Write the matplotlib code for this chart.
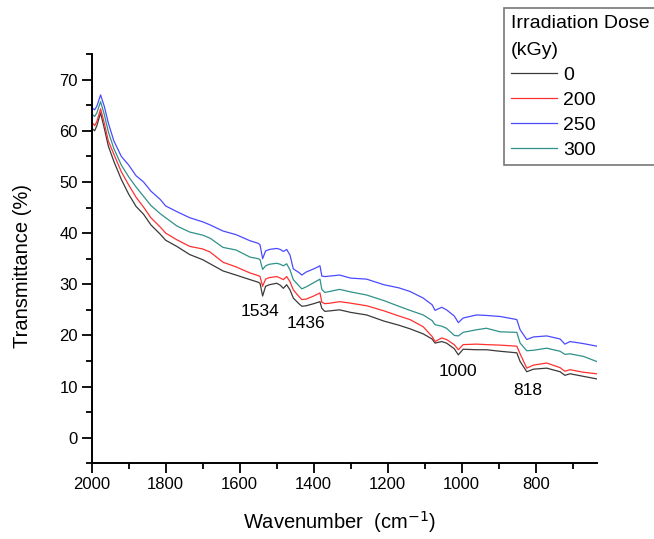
import matplotlib
matplotlib.use("Agg")
import matplotlib.pyplot as plt
from matplotlib.ticker import MultipleLocator

plt.rcParams['font.family'] = ['Liberation Sans', 'DejaVu Sans']

# wavenumber grid (cm-1)
wavenumber = [2000, 1992, 1986, 1976, 1966, 1955, 1940, 1920, 1900, 1880,
              1860, 1840, 1815, 1800, 1770, 1735, 1700, 1680, 1645, 1610,
              1572, 1550, 1545, 1538, 1530, 1520, 1500, 1490, 1482, 1473,
              1464, 1455, 1440, 1432, 1420, 1400, 1383, 1378, 1370, 1356,
              1330, 1300, 1257, 1210, 1170, 1140, 1104, 1080, 1072, 1054,
              1041, 1020, 1009, 996, 960, 933, 896, 851, 842, 824,
              806, 770, 734, 721, 707, 671, 635]

t_0kgy = [60.5, 60.0, 61.0, 63.5, 60.5, 57.0, 54.0, 50.5, 47.6, 45.2,
          43.7, 41.6, 39.8, 38.6, 37.4, 35.8, 34.8, 34.0, 32.6, 31.8,
          30.9, 30.4, 30.2, 27.7, 29.6, 29.9, 30.2, 29.8, 29.2, 29.9,
          28.9, 27.3, 26.2, 25.7, 25.8, 26.2, 26.6, 25.3, 24.7, 24.8,
          25.0, 24.5, 24.0, 22.8, 22.0, 21.3, 20.3, 19.3, 18.5, 18.8,
          18.5, 17.4, 16.2, 17.3, 17.2, 17.2, 16.9, 16.6, 14.9, 12.9,
          13.4, 13.6, 12.9, 12.2, 12.5, 12.0, 11.5]

t_200kgy = [61.7, 61.0, 61.8, 64.3, 61.5, 58.0, 55.4, 52.0, 49.4, 47.0,
            45.1, 43.0, 41.2, 40.0, 38.7, 37.4, 36.9, 36.3, 34.3, 33.4,
            32.2, 31.7, 31.5, 29.6, 31.0, 31.3, 31.5, 31.2, 30.9, 31.5,
            30.5, 28.9, 27.6, 27.0, 27.1, 27.7, 28.3, 26.5, 26.2, 26.3,
            26.6, 26.3, 25.8, 24.8, 23.8, 23.1, 21.7, 19.8, 18.8, 19.5,
            19.2, 18.2, 17.2, 18.2, 18.3, 18.2, 18.1, 17.9, 16.4, 13.6,
            14.2, 14.6, 13.7, 13.0, 13.3, 12.8, 12.5]

t_250kgy = [64.5, 64.1, 64.8, 67.0, 64.8, 61.5, 58.0, 55.0, 53.3, 51.2,
            50.0, 48.2, 46.6, 45.3, 44.2, 43.0, 42.2, 41.6, 40.4, 39.7,
            38.5, 38.0, 37.7, 35.0, 36.5, 36.8, 37.0, 36.8, 36.4, 36.8,
            35.7, 33.0, 32.3, 31.8, 32.4, 33.0, 33.6, 31.6, 31.5, 31.6,
            31.8, 31.2, 31.0, 29.9, 29.3, 28.6, 27.3, 26.0, 24.9, 25.5,
            25.0, 23.8, 22.5, 23.4, 24.0, 23.9, 23.7, 23.1, 21.1, 19.2,
            19.7, 19.9, 19.3, 18.3, 18.8, 18.4, 17.9]

t_300kgy = [63.3, 62.8, 63.5, 65.7, 63.2, 59.8, 56.5, 53.3, 51.0, 49.0,
            47.2, 45.4, 43.8, 43.0, 41.4, 40.2, 39.6, 39.0, 37.2, 36.7,
            35.3, 35.0, 34.8, 32.9, 33.6, 33.9, 34.1, 33.9, 33.6, 34.0,
            32.8, 30.9, 29.7, 29.1, 29.5, 30.3, 31.0, 29.0, 28.4, 28.6,
            29.0, 28.5, 27.9, 26.8, 25.7, 24.9, 24.0, 22.9, 22.1, 21.8,
            21.4, 20.0, 19.9, 20.6, 21.1, 21.4, 20.7, 20.6, 18.5, 17.0,
            17.1, 17.5, 16.9, 16.3, 16.4, 15.9, 14.9]

doses = ['0', '200', '250', '300']
colors = ['#3a3a3a', '#ff3030', '#4a4aff', '#2f918a']

peak_labels = ['1534', '1436', '1000', '818']
peak_label_x = [1545, 1421, 1010, 822]
peak_label_y = [24.7, 22.3, 13.0, 9.3]

fig = plt.figure(figsize=(6.54, 5.39), dpi=100)
ax = fig.add_axes([0.1402, 0.1404, 0.7722, 0.7594])

for series, lab, col in zip([t_0kgy, t_200kgy, t_250kgy, t_300kgy], doses, colors):
    ax.plot(wavenumber, series, color=col, lw=0.9, label=lab)

for txt, x, y in zip(peak_labels, peak_label_x, peak_label_y):
    ax.text(x, y, txt, ha='center', va='center', fontsize=12.5)

ax.set_xlim(2000, 635)
ax.set_ylim(-5, 75)
ax.xaxis.set_major_locator(MultipleLocator(200))
ax.xaxis.set_minor_locator(MultipleLocator(100))
ax.yaxis.set_major_locator(MultipleLocator(10))
ax.yaxis.set_minor_locator(MultipleLocator(5))

for side in ['top', 'right']:
    ax.spines[side].set_visible(False)
for side in ['left', 'bottom']:
    ax.spines[side].set_linewidth(1.4)

ax.tick_params(which='major', direction='out', length=7, width=1.3, labelsize=12, pad=3)
ax.tick_params(which='minor', direction='out', length=4.5, width=1.3)

fig.text(23 / 654, 1 - 266 / 539, 'Transmittance (%)', rotation=90,
         ha='center', va='center', fontsize=14.5)
fig.text(340 / 654, 1 - 522 / 539, 'Wavenumber  (cm$^{-1}$)',
         ha='center', va='center', fontsize=14.5)

leg = fig.legend(loc='upper left', bbox_to_anchor=(504 / 654, 1 - 8 / 539),
                 title='Irradiation Dose\n(kGy)', fontsize=14, title_fontsize=14,
                 frameon=True, fancybox=False, handlelength=2.4, handletextpad=0.3,
                 labelspacing=0.38, borderpad=0.35, borderaxespad=0)
leg._legend_box.align = 'left'
leg.get_title().set_linespacing(1.75)
leg.get_frame().set_edgecolor('#555555')
leg.get_frame().set_linewidth(1.2)
for line in leg.get_lines():
    line.set_linewidth(0.9)

fig.savefig('out.png', dpi=100)
